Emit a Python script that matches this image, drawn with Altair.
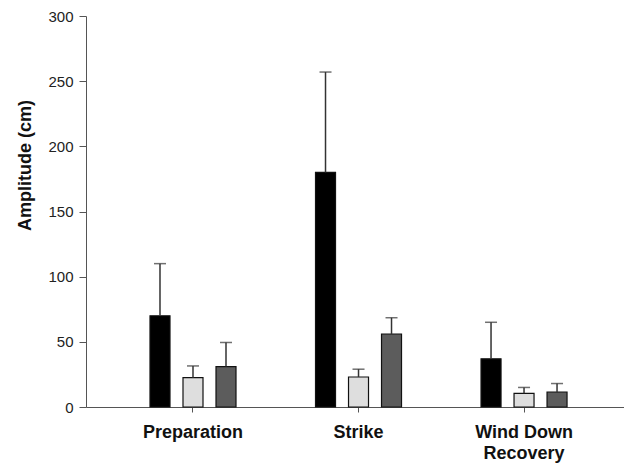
import altair as alt
import pandas as pd

phases = ["Preparation", "Strike", "Wind Down|Recovery"]
series = ["Series 1", "Series 2", "Series 3"]
colors = ["#000000", "#dedede", "#5c5c5c"]

means = {
    "Series 1": [70, 180, 37],
    "Series 2": [22.5, 23, 10.5],
    "Series 3": [31, 56, 11.5],
}
uppers = {
    "Series 1": [110, 257, 65],
    "Series 2": [31.5, 29, 15],
    "Series 3": [49.5, 68.5, 18],
}

rows = []
for s in series:
    for i, p in enumerate(phases):
        rows.append({"phase": p, "series": s, "mean": means[s][i], "upper": uppers[s][i]})
df = pd.DataFrame(rows)

xenc = alt.X(
    "phase:N",
    sort=phases,
    scale=alt.Scale(paddingInner=0.0816, paddingOuter=0.166, align=0.564),
    axis=alt.Axis(
        title=None,
        labelAngle=0,
        labelFontSize=18,
        labelFontWeight="bold",
        labelColor="#111111",
        labelFont="Liberation Sans",
        labelExpr="split(datum.label, '|')",
        labelLineHeight=21,
        labelPadding=11,
        tickSize=5,
        domainColor="#555555",
        tickColor="#555555",
    ),
)
xoff = alt.XOffset(
    "series:N",
    sort=series,
    scale=alt.Scale(paddingInner=0.394, paddingOuter=1.0),
)

yenc = alt.Y(
    "mean:Q",
    scale=alt.Scale(domain=[0, 300], nice=False),
    axis=alt.Axis(
        title="Amplitude (cm)",
        values=[0, 50, 100, 150, 200, 250, 300],
        grid=False,
        labelFontSize=15,
        labelFont="Liberation Sans",
        labelColor="#222222",
        labelPadding=6,
        tickSize=7,
        domainColor="#555555",
        tickColor="#555555",
        titleFontSize=18,
        titleFontWeight="bold",
        titleFont="Liberation Sans",
        titleColor="#111111",
        titleX=-61,
        titleY=149,
        titleAngle=-90,
        titleAlign="center",
        titleBaseline="middle",
    ),
)

base = alt.Chart(df)

bars = base.mark_bar(stroke="#111111", strokeWidth=1.2).encode(
    x=xenc,
    xOffset=xoff,
    y=yenc,
    color=alt.Color("series:N", sort=series, scale=alt.Scale(domain=series, range=colors), legend=None),
)

rules = base.mark_rule(color="#333333", strokeWidth=1.5).encode(
    x=xenc,
    xOffset=xoff,
    y="mean:Q",
    y2="upper:Q",
)

caps = base.mark_tick(color="#333333", thickness=1.5, size=12).encode(
    x=xenc,
    xOffset=xoff,
    y="upper:Q",
)

chart = (
    alt.layer(bars, rules, caps)
    .properties(
        width=538,
        height=391,
        autosize=alt.AutoSizeParams(type="none"),
        padding={"left": 78, "top": 8, "right": 0, "bottom": 58},
    )
    .configure_view(stroke=None)
)

chart.save("out.html", embed_options={"renderer": "svg", "actions": False})
